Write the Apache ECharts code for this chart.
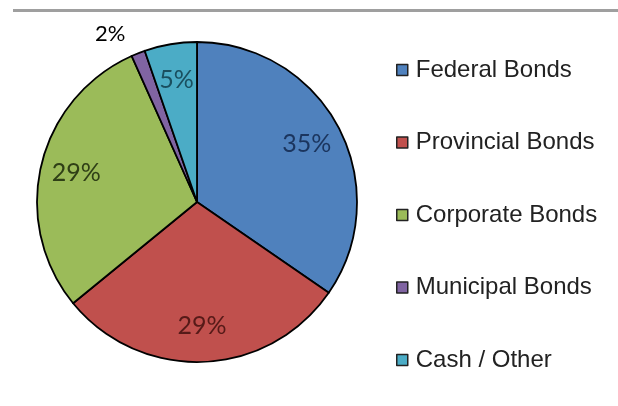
<!DOCTYPE html>
<html>
<head>
<meta charset="utf-8">
<script src="https://cdn.jsdelivr.net/npm/echarts@6/dist/echarts.min.js"></script>
<style>html,body{margin:0;padding:0;background:#fff}#c{width:618px;height:406px}</style>
</head>
<body>
<div id="c"></div>
<script>
const categories = ['Federal Bonds', 'Provincial Bonds', 'Corporate Bonds', 'Municipal Bonds', 'Cash / Other'];
const values = [34.6, 29.5, 29.2, 1.4, 5.3];
const labelTexts = ['35%', '29%', '29%', '2%', '5%'];
const colors = ['#4F81BD', '#C0504D', '#9BBB59', '#8064A2', '#4BACC6'];
const labelColors = ['#1B355E', '#561A18', '#2F3F16', '#000000', '#1A4F5F'];

const chart = echarts.init(document.getElementById('c'), null, {renderer: 'canvas'});
const center = [197, 202];
const R = 160;

const mainData = categories.map((n, i) => ({
  name: n, value: values[i],
  itemStyle: {color: colors[i]},
  label: i === 3 ? {show: true, position: 'outside', formatter: labelTexts[i], color: '#000', fontSize: 22, fontFamily: 'Lato'} : {show: false},
  labelLine: {show: false, length: 21, length2: 0}
}));
const labelData = categories.map((n, i) => ({
  name: n, value: values[i],
  itemStyle: {color: 'rgba(0,0,0,0)', borderWidth: 0},
  label: {show: i !== 3, formatter: labelTexts[i], color: labelColors[i]}
}));

chart.setOption({
  animation: false,
  backgroundColor: '#fff',
  graphic: [{
    type: 'line', shape: {x1: 13, y1: 10.5, x2: 618, y2: 10.5},
    style: {stroke: '#9f9f9f', lineWidth: 3}
  }],
  legend: {
    orient: 'vertical', left: 391, top: 53,
    data: categories,
    icon: 'rect', itemWidth: 11, itemHeight: 11, itemGap: 48.5,
    itemStyle: {borderColor: '#222', borderWidth: 1.5},
    textStyle: {fontFamily: 'Liberation Sans', fontSize: 24, color: '#222', lineHeight: 21, padding: [0, 0, 0, 3]}
  },
  series: [{
    type: 'pie', center: center, radius: R, startAngle: 90, clockwise: true,
    avoidLabelOverlap: false, silent: true,
    itemStyle: {borderColor: '#000', borderWidth: 1.8},
    label: {fontFamily: 'Lato'},
    data: mainData
  }, {
    type: 'pie', center: center, radius: [0, 242], startAngle: 90, clockwise: true,
    avoidLabelOverlap: false, silent: true, legendHoverLink: false,
    label: {position: 'inside', fontFamily: 'Lato', fontSize: 25},
    labelLine: {show: false},
    data: labelData
  }]
});
</script>
</body>
</html>
